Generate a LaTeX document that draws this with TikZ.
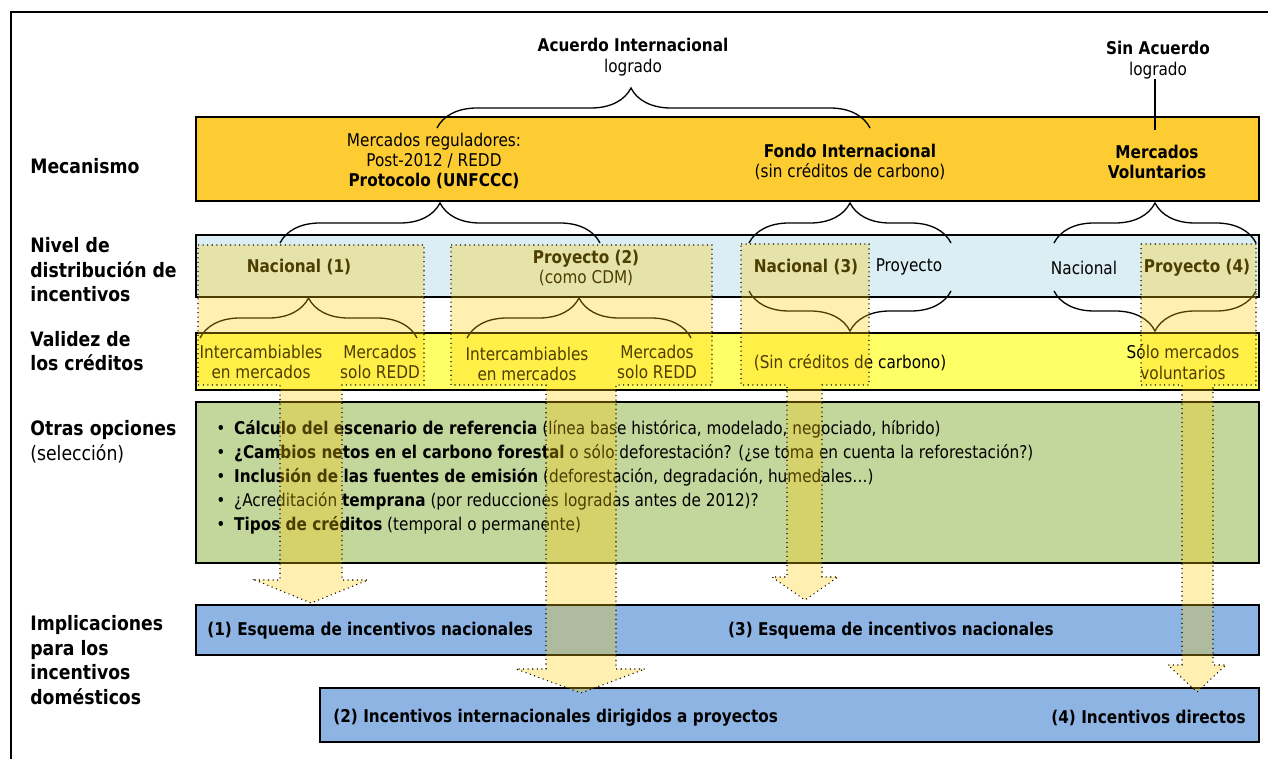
\documentclass[tikz,border=0pt]{standalone}
\usepackage{fontspec}
\setmainfont{DejaVu Sans}[FakeStretch=0.87]
\usetikzlibrary{
  positioning,
  calc,
  decorations.pathreplacing}
\definecolor{mechcolor}{RGB}{253,204,51}
\definecolor{levelcolor}{RGB}{218,238,243}
\definecolor{validcolor}{RGB}{255,255,102}
\definecolor{optioncolor}{RGB}{195,214,155}
\definecolor{implcolor}{RGB}{141,180,227}
\definecolor{arrowcolor}{RGB}{255,204,0}
\tikzset{
  %% band : one coloured row of the scheme
  band/.style={
    rectangle,
    draw=black,
    line width=1pt,
    minimum width=21.26cm,
    inner sep=0pt
  },
  %% rowlabel : row titles in the left column
  rowlabel/.style={
    anchor=west,
    align=left,
    inner sep=0pt,
    font=\fontsize{11.3}{14}\selectfont\bfseries
  },
  %% txt : plain text inside the rows
  txt/.style={
    align=center,
    inner sep=0pt,
    font=\fontsize{10}{11.6}\selectfont
  },
  %% btxt : bold text inside the rows
  btxt/.style={
    txt,
    font=\fontsize{10}{11.6}\selectfont\bfseries
  },
  %% bracket : curly brace between two rows
  bracket/.style={
    decorate,
    decoration={brace, amplitude=0.8cm},
    line width=0.75pt
  },
  %% flow : broad dotted arrow down to the implications
  flow/.style={
    draw=black,
    dotted,
    line width=0.6pt,
    fill=arrowcolor,
    fill opacity=0.3
  },
  %% frame : open frame round the figure
  frame/.style={line width=1.4pt}
}

\begin{document}
\begin{tikzpicture}
  [x=0.02cm,
  y=-0.02cm]

  \useasboundingbox (0,0) rectangle (1268,759);

  %% Frame
  \draw [frame] (11,759) -- (11,12) -- (1268,12);

  %% Rows
  \node (mech) [band, fill=mechcolor, minimum height=1.68cm] at (727.5,159) {};
  \node (level) [band, fill=levelcolor, minimum height=1.24cm] at (727.5,266) {};
  \node (valid) [band, fill=validcolor, minimum height=1.14cm] at (727.5,361.5) {};
  \node (options) [band, fill=optioncolor, minimum height=3.22cm] at (727.5,482.5) {};
  \node (impl1) [band, fill=implcolor, minimum height=1cm] at (727.5,630) {};
  \node (impl2) [band, fill=implcolor, minimum width=18.78cm,
    minimum height=1.08cm] at (789.5,715) {};

  %% Row labels
  \node (lmech) [rowlabel] at (30,166) {Mecanismo};
  \node (llevel) [rowlabel] at (30,270) {%
    Nivel de\\
    distribución de\\
    incentivos};
  \node (lvalid) [rowlabel] at (30,351) {%
    Validez de\\
    los créditos};
  \node (lopt) [rowlabel] at (30,442) {%
    Otras opciones\\
    {\mdseries (selección)}};
  \node (limpl) [rowlabel] at (30,660) {%
    Implicaciones\\
    para los\\
    incentivos\\
    domésticos};

  %% Agreement
  \node (acuerdo) [txt] at (633,57) {%
    {\bfseries Acuerdo Internacional}\\
    logrado};
  \node (sinacuerdo) [txt] at (1158,60) {%
    {\bfseries Sin Acuerdo}\\
    logrado};
  \coordinate (sinend) at (1155,130);
  \draw [line width=0.75pt] (sinacuerdo.south -| sinend) -- (sinend);
  \draw [bracket] (437,128) -- (870,128)
    [decoration={aspect=0.448}];

  %% Mechanism
  \node (regul) [txt] at (434,161) {%
    Mercados reguladores:\\
    Post-2012 / REDD\\
    {\bfseries Protocolo (UNFCCC)}};
  \node (fondo) [txt] at (850,162) {%
    {\bfseries Fondo Internacional}\\
    (sin créditos de carbono)};
  \node (volunt) [btxt] at (1157,162) {%
    Mercados\\
    Voluntarios};

  \draw [bracket] (280,243) -- (600,243);
  \draw [bracket] (749,243) -- (951,243);
  \draw [bracket] (1054,243) -- (1256,243);

  %% Distribution level
  \node (nac1) [btxt] at (299,267) {Nacional (1)};
  \node (proy2) [txt] at (586,268) {%
    {\bfseries Proyecto (2)}\\
    (como CDM)};
  \node (nac3) [btxt] at (806,267) {Nacional (3)};
  \node (proy3) [txt] at (909,267) {Proyecto};
  \node (nac4) [txt] at (1084,268) {Nacional};
  \node (proy4) [btxt] at (1197,268) {Proyecto (4)};

  \draw [bracket] (200,338) -- (417,338);
  \draw [bracket] (467,338) -- (691,338);
  \draw [bracket] (951,291) -- (749,291);
  \draw [bracket] (1256,291) -- (1054,291);

  %% Validity of credits
  \node (inter1) [txt] at (261,362) {Intercambiables\\en mercados};
  \node (redd1) [txt] at (380,362) {Mercados\\solo REDD};
  \node (inter2) [txt] at (527,364) {Intercambiables\\en mercados};
  \node (redd2) [txt] at (657,362) {Mercados\\solo REDD};
  \node (sincred) [txt] at (850,363) {(Sin créditos de carbono)};
  \node (solovol) [txt] at (1183,362) {Sólo mercados\\voluntarios};

  %% Other options
  \node (optlist) [txt, anchor=west, align=left,
    font=\fontsize{10}{13.7}\selectfont] at (216,477) {%
    \textbullet\enskip\textbf{Cálculo del escenario de referencia} (línea base histórica, modelado, negociado, híbrido)\\
    \textbullet\enskip\textbf{¿Cambios netos en el carbono forestal} o sólo deforestación? (¿se toma en cuenta la reforestación?)\\
    \textbullet\enskip\textbf{Inclusión de las fuentes de emisión} (deforestación, degradación, humedales…)\\
    \textbullet\enskip¿Acreditación \textbf{temprana} (por reducciones logradas antes de 2012)?\\
    \textbullet\enskip\textbf{Tipos de créditos} (temporal o permanente)};

  %% Implications
  \node (esq1) [btxt, anchor=west] at (207,631) {(1) Esquema de incentivos nacionales};
  \node (esq3) [btxt] at (891,631) {(3) Esquema de incentivos nacionales};
  \node (esq2) [btxt, anchor=west] at (333,718) {(2) Incentivos internacionales dirigidos a proyectos};
  \node (esq4) [btxt, anchor=east] at (1246,718) {(4) Incentivos directos};

  %% Arrows
  \draw [flow] (198,245) -- (424,245) -- (424,385) -- (342,385) -- (342,580)
    -- (368,580) -- (311,603) -- (255,580) -- (280,580) -- (280,385)
    -- (198,385) -- cycle;
  \draw [flow] (451,245) -- (712,245) -- (712,385) -- (616,385) -- (616,669)
    -- (645,669) -- (581,693) -- (516,669) -- (546,669) -- (546,385)
    -- (451,385) -- cycle;
  \draw [flow] (741,244) -- (869,244) -- (869,385) -- (822,385) -- (822,577)
    -- (838,577) -- (805,600) -- (772,577) -- (787,577) -- (787,385)
    -- (741,385) -- cycle;
  \draw [flow] (1141,244) -- (1256,244) -- (1256,385) -- (1213,385) -- (1213,665)
    -- (1226,665) -- (1197,692) -- (1168,665) -- (1182,665) -- (1182,385)
    -- (1141,385) -- cycle;

\end{tikzpicture}
\end{document}
